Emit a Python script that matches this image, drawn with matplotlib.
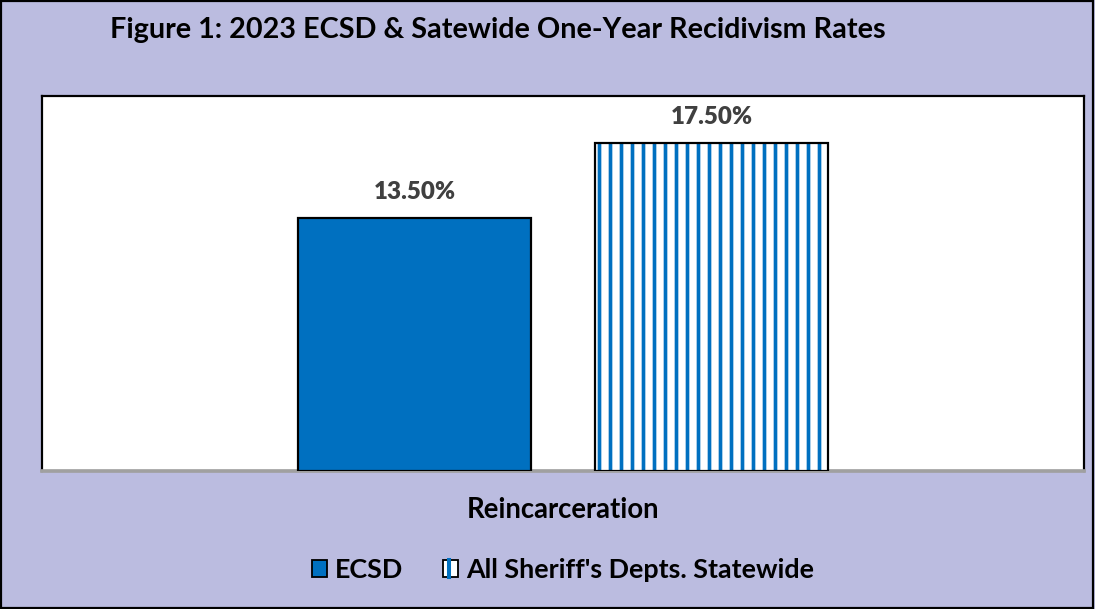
import matplotlib
matplotlib.use("Agg")
import matplotlib.pyplot as plt
from matplotlib.patches import Rectangle, Patch
from matplotlib.lines import Line2D
from matplotlib.legend_handler import HandlerBase

categories = ["Reincarceration"]
series_names = ["ECSD", "All Sheriff's Depts. Statewide"]
ecsd_values = [13.5]
statewide_values = [17.5]
labels_text = ["13.50%", "17.50%"]

BG = "#BBBCE0"
BLUE = "#0070C0"
DPI = 132
plt.rcParams['font.family'] = ['Lato', 'DejaVu Sans']
plt.rcParams['hatch.linewidth'] = 2.0

fig = plt.figure(figsize=(1095 / DPI, 609 / DPI), dpi=DPI, facecolor=BG)
fig.patches.append(Rectangle((0.001, 0.002), 0.997, 0.996, transform=fig.transFigure,
                             fill=False, edgecolor="black", linewidth=1.2, zorder=10))

ax = fig.add_axes([42 / 1095, 1 - 471 / 609, 1042 / 1095, 375 / 609])
ax.set_facecolor("white")
ax.set_xlim(-0.5, 0.5)
ax.set_ylim(0, 20)

width = 0.2236
off = 0.1425
x0 = 0

ax.bar([x0 - off], ecsd_values, width, color=BLUE, edgecolor="black", linewidth=1.2, zorder=3)
ax.bar([x0 + off], statewide_values, width, color="white", edgecolor=BLUE, linewidth=0,
       hatch="||", zorder=3)
ax.bar([x0 + off], statewide_values, width, fill=False, edgecolor="black", linewidth=1.2, zorder=4)

for xpos, val, txt in zip([x0 - off, x0 + off], [ecsd_values[0], statewide_values[0]], labels_text):
    ax.annotate(txt, (xpos, val), xytext=(0, 8), textcoords="offset points", ha="center",
                va="bottom", fontsize=13.2, fontweight="heavy", color="#404040")

ax.set_xticks([])
ax.set_yticks([])
for s in ["top", "left", "right"]:
    ax.spines[s].set_color("black")
    ax.spines[s].set_linewidth(1.2)
ax.spines["bottom"].set_color("#A0A0A0")
ax.spines["bottom"].set_linewidth(2)

fig.text(110 / 1095, 1 - 30 / 609, "Figure 1: 2023 ECSD & Satewide One-Year Recidivism Rates",
         ha="left", va="center", fontsize=15.7, fontweight="bold", color="black")
fig.text(563 / 1095, 1 - 510 / 609, categories[0], ha="center", va="center",
         fontsize=15, fontweight="bold", color="black")


class StripedHandler(HandlerBase):
    def create_artists(self, legend, orig_handle, xdescent, ydescent, width, height,
                       fontsize, trans):
        rect = Rectangle((-xdescent, -ydescent), width, height, facecolor="white",
                         edgecolor="black", linewidth=1.0, transform=trans)
        xl = -xdescent + width * 0.4
        line = Line2D([xl, xl], [-ydescent, -ydescent + height], color=BLUE,
                      linewidth=2.2, transform=trans)
        return [rect, line]


h1 = Patch(facecolor=BLUE, edgecolor="black", linewidth=1.0)
h2 = Patch(facecolor="white", edgecolor="black")
leg = fig.legend(handles=[h1, h2], labels=series_names, loc="center",
                 bbox_to_anchor=(563 / 1095, 1 - 570 / 609), ncol=2, frameon=False,
                 prop={"size": 14.7, "weight": "bold"}, handlelength=0.55, handleheight=0.55,
                 handletextpad=0.3, columnspacing=1.5,
                 handler_map={h2: StripedHandler()})
for t in leg.get_texts():
    t.set_color("black")

fig.savefig("out.png", dpi=DPI, facecolor=BG)
